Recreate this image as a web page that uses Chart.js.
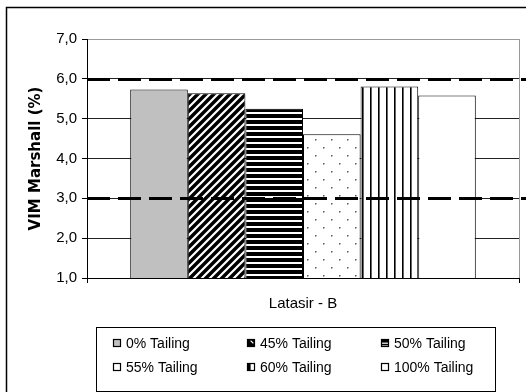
<!DOCTYPE html>
<html>
<head>
<meta charset="utf-8">
<script src="https://cdn.jsdelivr.net/npm/chart.js@4/dist/chart.umd.min.js"></script>
<style>
html,body{margin:0;padding:0;background:#fff;}
#wrap{width:526px;height:392px;position:relative;}
</style>
</head>
<body>
<div id="wrap"><canvas id="c" width="526" height="392"></canvas></div>
<script>
// ---- data ----
const categories = ["Latasir - B"];
const seriesNames = ["0% Tailing", "45% Tailing", "50% Tailing", "55% Tailing", "60% Tailing", "100% Tailing"];
const seriesValues = [5.73, 5.64, 5.25, 4.61, 5.81, 5.58];
const yTickLabels = ["1,0", "2,0", "3,0", "4,0", "5,0", "6,0", "7,0"];
const thresholds = [3.0, 6.0];
const yAxisTitle = "VIM Marshall (%)";

// ---- patterns ----
function tile(w, h, draw) {
  const c = document.createElement('canvas');
  c.width = w; c.height = h;
  const g = c.getContext('2d');
  draw(g, w, h);
  return document.getElementById('c').getContext('2d').createPattern(c, 'repeat');
}
const patGray = '#C0C0C0';
const patDiag = tile(8, 8, (g, w, h) => {
  g.fillStyle = '#000'; g.fillRect(0, 0, w, h);
  g.strokeStyle = '#fff'; g.lineWidth = 2.2;
  g.beginPath();
  g.moveTo(-2, 10); g.lineTo(10, -2);
  g.moveTo(-6, 6); g.lineTo(6, -6);
  g.moveTo(2, 14); g.lineTo(14, 2);
  g.stroke();
});
const patHoriz = tile(4, 6, (g, w, h) => {
  g.fillStyle = '#fff'; g.fillRect(0, 0, w, h);
  g.fillStyle = '#000'; g.fillRect(0, 0, w, 4);
});
const patDots = tile(16, 16, (g, w, h) => {
  g.fillStyle = '#fff'; g.fillRect(0, 0, w, h);
  g.fillStyle = '#555';
  g.fillRect(3, 3, 1.5, 1.5);
  g.fillRect(11, 11, 1.5, 1.5);
});
const patVert = tile(8, 4, (g, w, h) => {
  g.fillStyle = '#fff'; g.fillRect(0, 0, w, h);
  g.fillStyle = '#000'; g.fillRect(2, 0, 1.6, h);
});
const fills = [patGray, patDiag, patHoriz, patDots, patVert, '#FFFFFF'];

const datasets = seriesNames.map((name, i) => ({
  label: name,
  data: [seriesValues[i]],
  backgroundColor: fills[i],
  borderColor: '#000',
  borderWidth: 1,
  borderSkipped: 'bottom'
}));

// ---- plugins ----
const framePlugin = {
  id: 'frame',
  beforeDraw(chart) {
    const ctx = chart.ctx;
    ctx.save();
    ctx.fillStyle = '#fff';
    ctx.fillRect(0, 0, chart.width, chart.height);
    ctx.strokeStyle = '#000';
    ctx.lineWidth = 1.5;
    ctx.strokeRect(6.5, 7.5, 700, 700);
    ctx.restore();
  }
};

const thresholdPlugin = {
  id: 'thresholds',
  afterDatasetsDraw(chart) {
    const ctx = chart.ctx;
    const y = chart.scales.y;
    const area = chart.chartArea;
    ctx.save();
    ctx.strokeStyle = '#000';
    ctx.lineWidth = 3;
    ctx.setLineDash([23, 8]);
    thresholds.forEach(v => {
      const py = Math.round(y.getPixelForValue(v)) + 0.5;
      ctx.beginPath();
      ctx.moveTo(area.left, py);
      ctx.lineTo(chart.width, py);
      ctx.stroke();
    });
    ctx.restore();
  }
};

function drawMarker(ctx, i, x, y, s) {
  ctx.save();
  ctx.fillStyle = '#fff';
  ctx.fillRect(x, y, s, s);
  if (i === 0) { ctx.fillStyle = patGray; ctx.fillRect(x, y, s, s); }
  if (i === 1) {
    ctx.fillStyle = '#000'; ctx.fillRect(x, y, s, s);
    ctx.strokeStyle = '#fff'; ctx.lineWidth = 1.2;
    ctx.beginPath(); ctx.moveTo(x + s * 0.45, y + s * 0.2); ctx.lineTo(x + s * 0.8, y + s * 0.55); ctx.stroke();
  }
  if (i === 2) {
    ctx.fillStyle = '#000'; ctx.fillRect(x, y, s, s * 0.45);
    ctx.fillRect(x, y + s * 0.6, s, s * 0.2);
  }
  if (i === 4) {
    ctx.fillStyle = '#000'; ctx.fillRect(x, y, s * 0.45, s);
  }
  ctx.strokeStyle = '#000'; ctx.lineWidth = 1.2;
  ctx.strokeRect(x + 0.5, y + 0.5, s - 1, s - 1);
  ctx.restore();
}

const legendPlugin = {
  id: 'boxLegend',
  afterDraw(chart) {
    const ctx = chart.ctx;
    const box = { x: 96.5, y: 327.5, w: 399, h: 64 };
    ctx.save();
    ctx.strokeStyle = '#000';
    ctx.lineWidth = 1;
    ctx.strokeRect(box.x, box.y, box.w, box.h);
    const colX = [113, 247, 381];
    const rowY = [343, 367];
    ctx.font = '14px "Liberation Sans", Arial, sans-serif';
    ctx.textBaseline = 'middle';
    ctx.textAlign = 'left';
    ctx.fillStyle = '#000';
    seriesNames.forEach((name, i) => {
      const cx = colX[i % 3];
      const cy = rowY[Math.floor(i / 3)];
      drawMarker(ctx, i, cx, cy - 4, 8);
      ctx.fillStyle = '#000';
      ctx.fillText(name, cx + 13, cy + 1);
    });
    ctx.restore();
  }
};

new Chart(document.getElementById('c'), {
  type: 'bar',
  data: { labels: categories, datasets },
  options: {
    responsive: false,
    animation: false,
    devicePixelRatio: 1,
    layout: { padding: { left: 0, right: 7, top: 39, bottom: 0 } },
    datasets: { bar: { categoryPercentage: 0.8, barPercentage: 1.0 } },
    plugins: {
      legend: { display: false },
      tooltip: { enabled: false },
      title: { display: false }
    },
    scales: {
      x: {
        grid: {
          display: true,
          offset: true,
          drawOnChartArea: true,
          color: '#999',
          tickColor: '#000',
          tickLength: 5,
          lineWidth: 1
        },
        border: { color: '#000', width: 1 },
        ticks: {
          color: '#000',
          padding: 12,
          font: { family: '"Liberation Sans", Arial, sans-serif', size: 15 }
        },
        afterFit(scale) { scale.height = 114; }
      },
      y: {
        min: 1,
        max: 7,
        ticks: {
          stepSize: 1,
          color: '#000',
          padding: 5,
          font: { family: '"Liberation Sans", Arial, sans-serif', size: 15 },
          callback: (v) => yTickLabels[Math.round(v) - 1]
        },
        grid: {
          color: (c) => (c.tick && c.tick.value === 7 ? '#999' : '#222'),
          tickColor: '#000',
          tickLength: 5,
          lineWidth: 1
        },
        border: { color: '#000', width: 1 },
        title: {
          display: true,
          text: yAxisTitle,
          color: '#000',
          padding: { top: 27, bottom: 0 },
          font: { family: '"DejaVu Sans", sans-serif', size: 15, weight: 'bold' }
        },
        afterFit(scale) { scale.width = 87; }
      }
    }
  },
  plugins: [framePlugin, thresholdPlugin, legendPlugin]
});
</script>
</body>
</html>
